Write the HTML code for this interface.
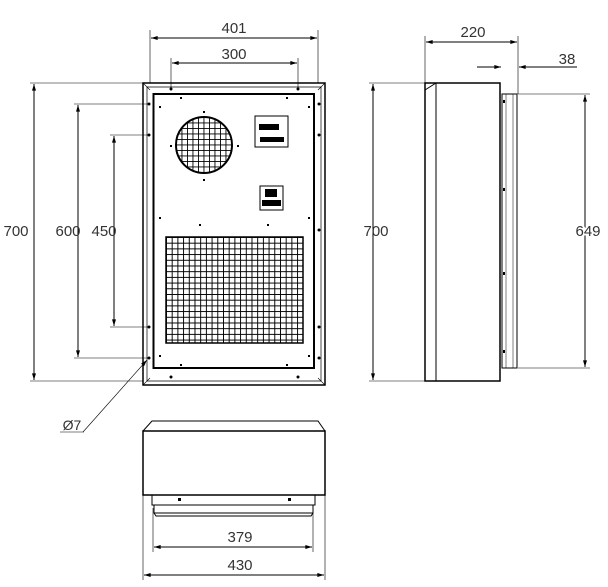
<!DOCTYPE html>
<html><head><style>html,body{margin:0;padding:0;background:#fff}svg{display:block}</style></head>
<body>
<svg width="608" height="587" viewBox="0 0 608 587" xmlns="http://www.w3.org/2000/svg" font-family="Liberation Sans, sans-serif">
<defs>
<marker id="a" viewBox="0 0 10 6" refX="10" refY="3" markerWidth="10" markerHeight="4" orient="auto-start-reverse" markerUnits="userSpaceOnUse"><path d="M0,0L10,3L0,6z" fill="#000"/></marker>
<pattern id="g" x="166" y="237" width="5.7" height="5.7" patternUnits="userSpaceOnUse"><path d="M0,0H5.7M0,0V5.7" stroke="#000" stroke-width="1.9" fill="none"/></pattern>
<pattern id="f" x="176" y="117" width="5.5" height="5.5" patternUnits="userSpaceOnUse"><path d="M0,0H5.5M0,0V5.5" stroke="#000" stroke-width="1.8" fill="none"/></pattern>
</defs>
<g stroke="#000" fill="none" stroke-width="1">
<rect x="143" y="83" width="182" height="302" stroke-width="1.5"/>
<path d="M147,87H321V381H147Z" stroke-width="0.7"/>
<path d="M143,83L150,90M325,83L318,90M143,385L150,378M325,385L318,378" stroke-width="0.6"/>
<rect x="153.5" y="94" width="160.5" height="274" stroke-width="2"/>
<rect x="166" y="237" width="137" height="106" fill="url(#g)" stroke-width="1.5"/>
<circle cx="204" cy="145" r="28" fill="url(#f)" stroke-width="2"/>
<rect x="255" y="116" width="33" height="31" stroke-width="1"/>
<rect x="259" y="124" width="20" height="6" fill="#000" stroke="none"/>
<rect x="260" y="137" width="24" height="5" fill="#000" stroke="none"/>
<rect x="260" y="186" width="23" height="24"/>
<rect x="265" y="189" width="12" height="8" fill="#000" stroke="none"/>
<rect x="262" y="200" width="19" height="6" fill="#000" stroke="none"/>
<path d="M150,83V30M318,83V30" stroke-width="0.6"/>
<path d="M151,38H317" marker-start="url(#a)" marker-end="url(#a)"/>
<path d="M171,88V58M298,88V58" stroke-width="0.6"/>
<path d="M172,63H297" marker-start="url(#a)" marker-end="url(#a)"/>
<path d="M30,83H143M30,381H143M74,104H148M74,358H148M110,135H148M110,327H148" stroke-width="0.6"/>
<path d="M34,84V380" marker-start="url(#a)" marker-end="url(#a)"/>
<path d="M78,105V357" marker-start="url(#a)" marker-end="url(#a)"/>
<path d="M114,136V326" marker-start="url(#a)" marker-end="url(#a)"/>
<path d="M83,432L147,360" stroke-width="0.6" marker-end="url(#a)"/>
<path d="M60,432H84" stroke-width="0.6"/>
<rect x="425" y="83" width="75" height="298" stroke-width="1.5"/>
<path d="M436,83V381M425,90L436,83" stroke-width="1"/>
<rect x="502" y="94" width="15" height="274" stroke-width="1"/>
<path d="M506,94V368M513,94V368" stroke-width="0.5"/>
<path d="M425,83V36M518,94V36" stroke-width="0.6"/>
<path d="M426,42H517" marker-start="url(#a)" marker-end="url(#a)"/>
<path d="M477,67H501" marker-end="url(#a)"/>
<path d="M577,67H519" marker-end="url(#a)"/>
<path d="M369,83H425M369,381H425" stroke-width="0.6"/>
<path d="M373,84V380" marker-start="url(#a)" marker-end="url(#a)"/>
<path d="M518,94H590M518,368H590" stroke-width="0.6"/>
<path d="M585,95V367" marker-start="url(#a)" marker-end="url(#a)"/>
<path d="M143,431L152,421H318L325,431" stroke-width="1"/>
<rect x="143" y="431" width="182" height="64" stroke-width="1.5"/>
<path d="M152,495V505H315V495M154,505V513H313V505M154,513L156,516H311L313,513" stroke-width="1"/>
<path d="M153,508V552M313,508V552M143,495V580M325,495V580" stroke-width="0.6"/>
<path d="M154,547H312" marker-start="url(#a)" marker-end="url(#a)"/>
<path d="M144,575H324" marker-start="url(#a)" marker-end="url(#a)"/>
</g>
<g fill="#000">
<circle cx="171" cy="89" r="1.5"/><circle cx="298" cy="89" r="1.5"/>
<circle cx="171" cy="377" r="1.5"/><circle cx="298" cy="377" r="1.5"/>
<circle cx="149" cy="104" r="1.5"/><circle cx="149" cy="135" r="1.5"/><circle cx="149" cy="327" r="1.5"/><circle cx="149" cy="358" r="1.5"/>
<circle cx="319" cy="104" r="1.5"/><circle cx="319" cy="135" r="1.5"/><circle cx="319" cy="230" r="1.5"/><circle cx="319" cy="327" r="1.5"/><circle cx="319" cy="358" r="1.5"/>
<rect x="159" y="106" width="2" height="2"/><rect x="180" y="97" width="2" height="2"/><rect x="286" y="97" width="2" height="2"/><rect x="308" y="106" width="2" height="2"/>
<rect x="203" y="111" width="2" height="2"/><rect x="203" y="179" width="2" height="2"/><rect x="170" y="145" width="2" height="2"/><rect x="237" y="145" width="2" height="2"/>
<rect x="159" y="217" width="2" height="2"/><rect x="199" y="224" width="2" height="2"/><rect x="267" y="224" width="2" height="2"/><rect x="308" y="217" width="2" height="2"/>
<rect x="159" y="355" width="2" height="2"/><rect x="180" y="364" width="2" height="2"/><rect x="286" y="364" width="2" height="2"/><rect x="308" y="355" width="2" height="2"/>
<rect x="178" y="498" width="3" height="3"/><rect x="288" y="498" width="3" height="3"/>
<rect x="503" y="100" width="2" height="3"/><rect x="503" y="188" width="2" height="3"/><rect x="503" y="272" width="2" height="3"/><rect x="503" y="350" width="2" height="3"/>
</g>
<g font-size="15" fill="#333" text-anchor="middle">
<text x="234" y="33">401</text>
<text x="234" y="59">300</text>
<text x="16" y="236">700</text>
<text x="68" y="236">600</text>
<text x="104" y="236">450</text>
<text x="72" y="430" font-size="14">Ø7</text>
<text x="473" y="37">220</text>
<text x="567" y="64">38</text>
<text x="376" y="236">700</text>
<text x="588" y="236" style="paint-order:stroke" stroke="#fff" stroke-width="4">649</text>
<text x="240" y="542">379</text>
<text x="240" y="570" style="paint-order:stroke" stroke="#fff" stroke-width="4">430</text>
</g>
</svg>
</body></html>
